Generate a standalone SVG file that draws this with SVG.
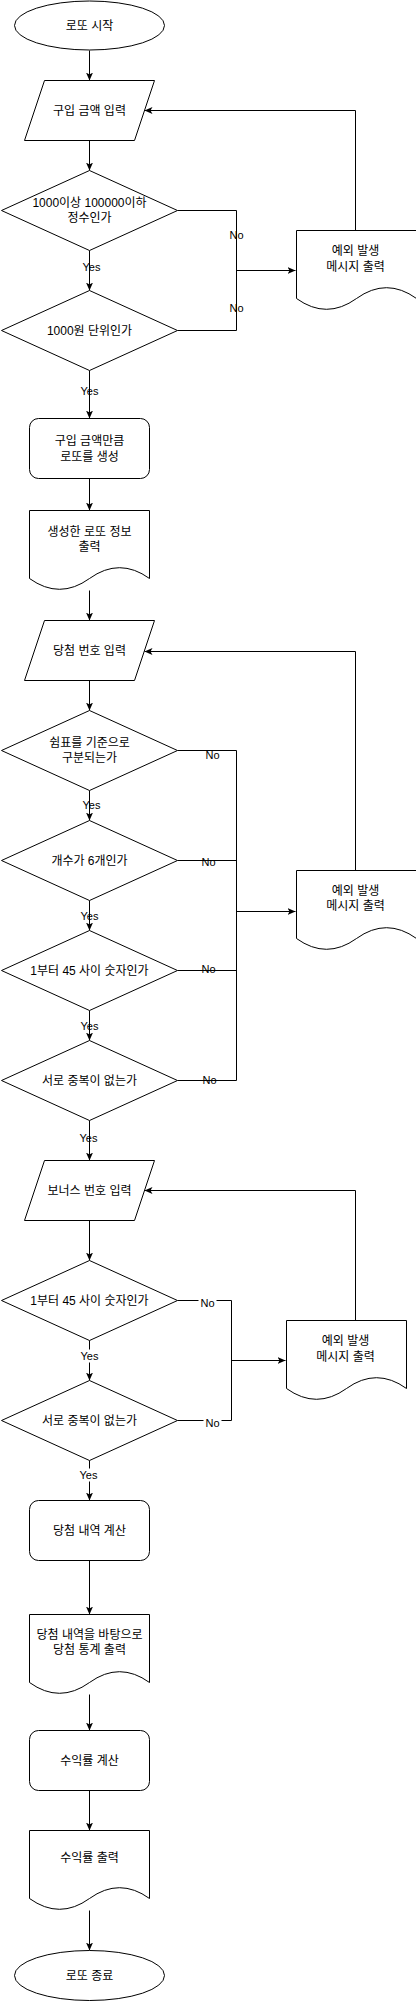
<svg xmlns="http://www.w3.org/2000/svg" width="416" height="2001" viewBox="0 0 416 2001">
<style>
.s{fill:#fff;stroke:#000;stroke-width:1}
.t{font-family:"Liberation Sans","Noto Sans CJK KR",sans-serif;font-size:12px;fill:#000;text-anchor:middle}
.l{font-family:"Liberation Sans","Noto Sans CJK KR",sans-serif;font-size:11px;fill:#000;text-anchor:middle}
.c{fill:none;stroke:#000;stroke-width:1}
.a{marker-end:url(#arr)}
.bg{fill:#fff}
</style>
<defs>
<marker id="arr" markerUnits="userSpaceOnUse" markerWidth="10" markerHeight="10" refX="8" refY="3.5" orient="auto">
<path d="M0,0 L8,3.5 L0,7 L2,3.5 Z" fill="#000"/>
</marker>
</defs>
<rect width="416" height="2001" fill="#fff"/>
<g transform="translate(0.5,0.5)">
<g id="connectors">
<path class="c a" d="M89,50 V80"/>
<path class="c a" d="M89,140 V170"/>
<path class="c a" d="M89,250 V290"/>
<path class="c" d="M177,210 H236 V330 H177"/>
<path class="c a" d="M236,270 H295"/>
<path class="c a" d="M355,230 V110 H144"/>
<path class="c a" d="M89,370 V418"/>
<path class="c a" d="M89,478 V510"/>
<path class="c a" d="M89,590 V620"/>
<path class="c a" d="M89,680 V710"/>
<path class="c a" d="M89,790 V820"/>
<path class="c a" d="M89,900 V930"/>
<path class="c a" d="M89,1010 V1040"/>
<path class="c" d="M177,750 H236 V1080 H177 M177,860 H236 M177,970 H236"/>
<path class="c a" d="M236,911 H295"/>
<path class="c a" d="M355,870 V651 H144"/>
<path class="c a" d="M89,1120 V1160"/>
<path class="c a" d="M355,1320 V1190 H144"/>
<path class="c a" d="M89,1220 V1260"/>
<path class="c a" d="M89,1340 V1380"/>
<path class="c" d="M177,1300 H231 V1420 H177"/>
<path class="c a" d="M231,1360 H285"/>
<path class="c a" d="M89,1460 V1500"/>
<path class="c a" d="M89,1560 V1614"/>
<path class="c a" d="M89,1694 V1730"/>
<path class="c a" d="M89,1790 V1830"/>
<path class="c a" d="M89,1910 V1950"/>
<g id="edge-labels">
<text class="l" x="91" y="270">Yes</text>
<text class="l" x="236" y="238">No</text>
<text class="l" x="236" y="311">No</text>
<text class="l" x="89" y="394">Yes</text>
<text class="l" x="212" y="758">No</text>
<text class="l" x="91" y="808">Yes</text>
<text class="l" x="208" y="865">No</text>
<text class="l" x="89" y="919">Yes</text>
<text class="l" x="208" y="972">No</text>
<text class="l" x="89" y="1029">Yes</text>
<text class="l" x="209" y="1083">No</text>
<text class="l" x="88" y="1141">Yes</text>
<rect class="bg" x="198" y="1295" width="18" height="13"/>
<text class="l" x="207" y="1306">No</text>
<rect class="bg" x="78" y="1349" width="22" height="13"/>
<text class="l" x="89" y="1359">Yes</text>
<rect class="bg" x="203" y="1415" width="18" height="13"/>
<text class="l" x="212" y="1426">No</text>
<rect class="bg" x="77" y="1468" width="22" height="13"/>
<text class="l" x="88" y="1478">Yes</text>
</g>
</g>
<g id="start">
<ellipse class="s" cx="89" cy="25" rx="75" ry="24.5"/>
<text class="t" x="89" y="29">로또 시작</text>
</g>
<g id="input-amount">
<path class="s" d="M44,80 H154 L134,140 H24 Z"/>
<text class="t" x="89" y="114">구입 금액 입력</text>
</g>
<g id="check-range">
<path class="s" d="M89,170 L177,210 L89,250 L1,210 Z"/>
<text class="t" x="89" y="206">1000이상 100000이하</text>
<text class="t" x="89" y="221">정수인가</text>
</g>
<g id="check-unit">
<path class="s" d="M89,290 L177,330 L89,370 L1,330 Z"/>
<text class="t" x="89" y="334">1000원 단위인가</text>
</g>
<g id="error-1">
<path class="s" d="M296,230 H416 V298 Q386,276.4 356,298 Q326,319.6 296,298 Z"/>
<text class="t" x="355" y="254">예외 발생</text>
<text class="t" x="355" y="270">메시지 출력</text>
</g>
<g id="generate">
<rect class="s" x="29" y="418" width="120" height="60" rx="9"/>
<text class="t" x="89" y="444">구입 금액만큼</text>
<text class="t" x="89" y="460">로또를 생성</text>
</g>
<g id="print-lotto">
<path class="s" d="M29,510 H149 V578 Q119,556.4 89,578 Q59,599.6 29,578 Z"/>
<text class="t" x="89" y="535">생성한 로또 정보</text>
<text class="t" x="89" y="550">출력</text>
</g>
<g id="input-winning">
<path class="s" d="M44,620 H154 L134,680 H24 Z"/>
<text class="t" x="89" y="654">당첨 번호 입력</text>
</g>
<g id="check-comma">
<path class="s" d="M89,710 L177,750 L89,790 L1,750 Z"/>
<text class="t" x="89" y="746">쉼표를 기준으로</text>
<text class="t" x="89" y="761">구분되는가</text>
</g>
<g id="check-count">
<path class="s" d="M89,820 L177,860 L89,900 L1,860 Z"/>
<text class="t" x="89" y="864">개수가 6개인가</text>
</g>
<g id="check-range-2">
<path class="s" d="M89,930 L177,970 L89,1010 L1,970 Z"/>
<text class="t" x="89" y="974">1부터 45 사이 숫자인가</text>
</g>
<g id="check-dup">
<path class="s" d="M89,1040 L177,1080 L89,1120 L1,1080 Z"/>
<text class="t" x="89" y="1084">서로 중복이 없는가</text>
</g>
<g id="error-2">
<path class="s" d="M296,870 H416 V938 Q386,916.4 356,938 Q326,959.6 296,938 Z"/>
<text class="t" x="355" y="894">예외 발생</text>
<text class="t" x="355" y="909">메시지 출력</text>
</g>
<g id="input-bonus">
<path class="s" d="M44,1160 H154 L134,1220 H24 Z"/>
<text class="t" x="89" y="1194">보너스 번호 입력</text>
</g>
<g id="check-bonus-range">
<path class="s" d="M89,1260 L177,1300 L89,1340 L1,1300 Z"/>
<text class="t" x="89" y="1304">1부터 45 사이 숫자인가</text>
</g>
<g id="check-bonus-dup">
<path class="s" d="M89,1380 L177,1420 L89,1460 L1,1420 Z"/>
<text class="t" x="89" y="1424">서로 중복이 없는가</text>
</g>
<g id="error-3">
<path class="s" d="M286,1320 H406 V1388 Q376,1366.4 346,1388 Q316,1409.6 286,1388 Z"/>
<text class="t" x="345" y="1344">예외 발생</text>
<text class="t" x="345" y="1360">메시지 출력</text>
</g>
<g id="calc-result">
<rect class="s" x="29" y="1500" width="120" height="60" rx="9"/>
<text class="t" x="89" y="1534">당첨 내역 계산</text>
</g>
<g id="print-stats">
<path class="s" d="M29,1614 H149 V1682 Q119,1660.4 89,1682 Q59,1703.6 29,1682 Z"/>
<text class="t" x="89" y="1638">당첨 내역을 바탕으로</text>
<text class="t" x="89" y="1653">당첨 통계 출력</text>
</g>
<g id="calc-yield">
<rect class="s" x="29" y="1730" width="120" height="60" rx="9"/>
<text class="t" x="89" y="1764">수익률 계산</text>
</g>
<g id="print-yield">
<path class="s" d="M29,1830 H149 V1898 Q119,1876.4 89,1898 Q59,1919.6 29,1898 Z"/>
<text class="t" x="89" y="1861">수익률 출력</text>
</g>
<g id="end">
<ellipse class="s" cx="89" cy="1975" rx="75" ry="25"/>
<text class="t" x="89" y="1979">로또 종료</text>
</g>
</g>
</svg>
